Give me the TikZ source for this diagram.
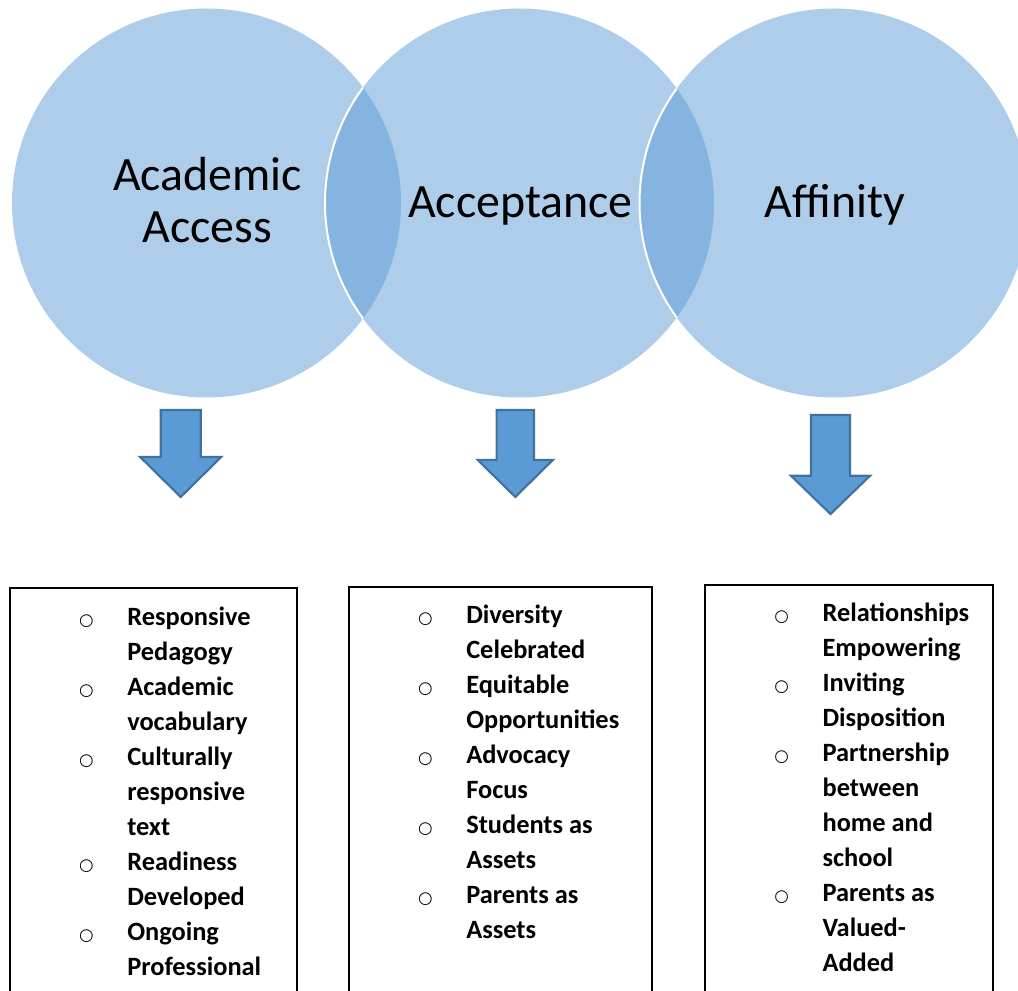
\documentclass[tikz,border=0pt]{standalone}
\usepackage{fontspec}
\newfontfamily\calibri{Carlito}
\newfontfamily\symfont{DejaVu Sans}
\definecolor{vennblue}{HTML}{5B9BD5}
\definecolor{arrowfill}{HTML}{5B9BD5}
\definecolor{arrowedge}{HTML}{41719C}
% hollow bullet hung to the left of each list item
\newcommand\itemmark{\llap{\makebox[0pt][c]{\symfont\mdseries\fontsize{12.5}{12.5}\selectfont ○}\hspace{30.7pt}}}
\begin{document}
\begin{tikzpicture}[x=0.75pt,y=-0.75pt,
  venncircle/.style={circle, minimum size=291.75pt, inner sep=0pt, fill=vennblue, fill opacity=0.5},
  vennlabel/.style={inner sep=0pt, font=\calibri\fontsize{35.9}{38.5}\selectfont},
  blockarrow/.style={fill=arrowfill, draw=arrowedge, line width=1.6pt, line join=miter},
  listbox/.style={draw=black, line width=1.1pt},
  listtext/.style={inner sep=0pt, anchor=base west, font=\calibri\bfseries\fontsize{19.8}{26.25}\selectfont}
]
\clip (0,0) rectangle (1018,991);

% three overlapping circles
\node[venncircle] (c1) at (206.5,203) {};
\node[venncircle] (c2) at (519.5,203) {};
\node[venncircle] (c3) at (834,203) {};

% white rims where a circle overlaps the previous one
\begin{scope}
  \clip (c1.center) circle[radius=145.875pt];
  \draw[white, line width=1.5pt] (c2.center) circle[radius=145.875pt];
\end{scope}
\begin{scope}
  \clip (c2.center) circle[radius=145.875pt];
  \draw[white, line width=1.5pt] (c3.center) circle[radius=145.875pt];
\end{scope}

% circle titles
\node[vennlabel, anchor=base] (t1) at (207.5,191) {\begin{tabular}[t]{@{}c@{}}Academic\\Access\end{tabular}};
\node[vennlabel, anchor=base] (t2) at (520.5,217.3) {Acceptance};
\node[vennlabel, anchor=base] (t3) at (835,217.3) {Affinity};

% block arrows pointing down
\draw[blockarrow] (160.7,410) -- (200.7,410) -- (200.7,457) -- (221.2,457) -- (180.7,497) -- (140.2,457) -- (160.7,457) -- cycle;
\draw[blockarrow] (496.6,410) -- (534,410) -- (534,460) -- (552.8,460) -- (515.3,497) -- (477.8,460) -- (496.6,460) -- cycle;
\draw[blockarrow] (811,415) -- (850,415) -- (850,475.7) -- (870.1,475.7) -- (830.5,514) -- (790.9,475.7) -- (811,475.7) -- cycle;

% list boxes
\draw[listbox] (10,588) rectangle (297,1010);
\draw[listbox] (349,587) rectangle (652,1010);
\draw[listbox] (705,585) rectangle (993,1010);

% list contents
\node[listtext] (l1) at (127,625) {\begin{tabular}[t]{@{}l@{}}
  \itemmark Responsive\\ Pedagogy\\
  \itemmark Academic\\ vocabulary\\
  \itemmark Culturally\\ responsive\\ text\\
  \itemmark Readiness\\ Developed\\
  \itemmark Ongoing\\ Professional
\end{tabular}};

\node[listtext] (l2) at (466,623.3) {\begin{tabular}[t]{@{}l@{}}
  \itemmark Diversity\\ Celebrated\\
  \itemmark Equitable\\ Opportunities\\
  \itemmark Advocacy\\ Focus\\
  \itemmark Students as\\ Assets\\
  \itemmark Parents as\\ Assets
\end{tabular}};

\node[listtext] (l3) at (822.3,621.7) {\begin{tabular}[t]{@{}l@{}}
  \itemmark Relationships\\ Empowering\\
  \itemmark Inviting\\ Disposition\\
  \itemmark Partnership\\ between\\ home and\\ school\\
  \itemmark Parents as\\ Valued-\\ Added
\end{tabular}};
\end{tikzpicture}
\end{document}
